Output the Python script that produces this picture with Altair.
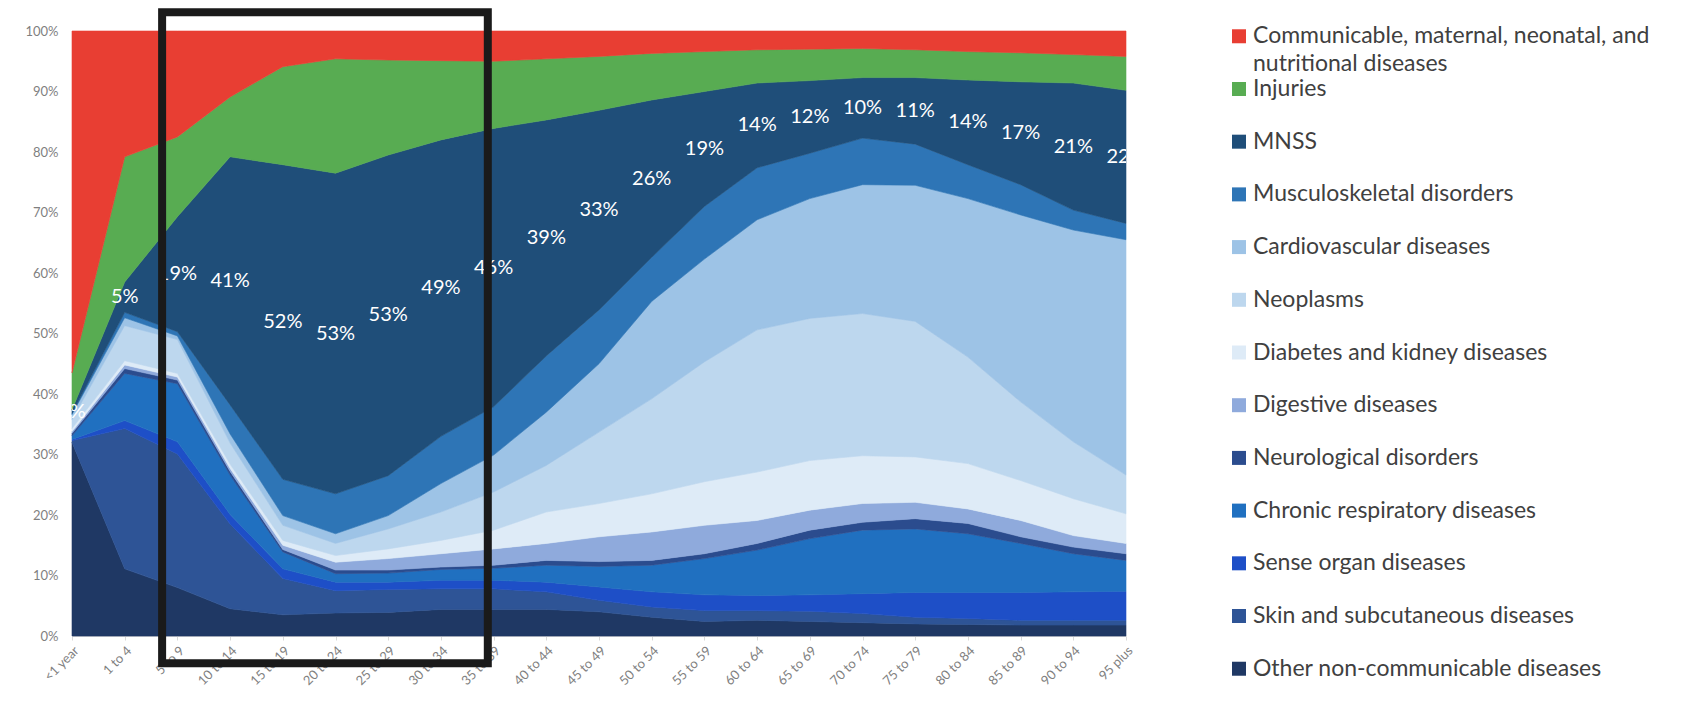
import json
import altair as alt
import pandas as pd

AGES = ["<1 year", "1 to 4", "5 to 9", "10 to 14", "15 to 19", "20 to 24", "25 to 29",
        "30 to 34", "35 to 39", "40 to 44", "45 to 49", "50 to 54", "55 to 59", "60 to 64",
        "65 to 69", "70 to 74", "75 to 79", "80 to 84", "85 to 89", "90 to 94", "95 plus"]

# legend order, top to bottom (= stack order, top to bottom)
CATEGORIES = [
    "Communicable, maternal, neonatal, and nutritional diseases",
    "Injuries",
    "MNSS",
    "Musculoskeletal disorders",
    "Cardiovascular diseases",
    "Neoplasms",
    "Diabetes and kidney diseases",
    "Digestive diseases",
    "Neurological disorders",
    "Chronic respiratory diseases",
    "Sense organ diseases",
    "Skin and subcutaneous diseases",
    "Other non-communicable diseases",
]
COLORS = ["#E83E33", "#58AC52", "#1F4E79", "#2E75B6", "#9DC3E6", "#BDD7EE", "#DEEBF7",
          "#8FAADC", "#2B4C8E", "#2070C0", "#1E4FC7", "#2E5496", "#1F3864"]

# percentage share per age group
COMMUNICABLE = [56.5, 20.8, 17.5, 10.9, 5.9, 4.6, 4.8, 4.9, 5.0, 4.6, 4.2, 3.7, 3.4, 3.1, 3.0, 2.9, 3.1, 3.4, 3.6, 3.9, 4.2]
INJURIES = [6.1, 20.7, 13.2, 9.9, 16.2, 18.9, 15.7, 13.1, 11.1, 10.1, 8.9, 7.7, 6.6, 5.5, 5.2, 4.8, 4.6, 4.7, 4.8, 4.7, 5.6]
MNSS = [0.6, 5.0, 19.0, 41.0, 52.0, 53.0, 53.0, 49.0, 46.0, 39.0, 33.0, 26.0, 19.0, 14.0, 12.0, 10.0, 11.0, 14.0, 17.0, 21.0, 22.0]
MUSCULOSKELETAL = [0.2, 0.9, 0.7, 4.8, 6.0, 6.6, 6.6, 7.8, 8.0, 9.3, 8.9, 7.3, 8.7, 8.6, 7.5, 7.7, 6.8, 5.6, 5.0, 3.3, 2.7]
CARDIOVASCULAR = [0.8, 1.3, 0.6, 1.5, 1.6, 1.6, 2.2, 4.7, 6.1, 8.8, 11.3, 16.1, 17.0, 18.2, 19.8, 21.3, 22.5, 26.2, 30.9, 35.0, 38.9]
NEOPLASMS = [1.5, 5.8, 5.6, 3.5, 2.5, 2.0, 3.3, 4.7, 6.3, 7.7, 11.8, 15.7, 19.8, 23.5, 23.5, 23.5, 22.4, 17.6, 13.0, 9.4, 6.4]
DIABETES = [0.5, 0.7, 0.6, 0.7, 0.8, 1.1, 1.6, 2.2, 3.1, 5.2, 5.5, 6.3, 7.2, 8.0, 8.2, 7.9, 7.5, 7.5, 6.6, 6.1, 4.9]
DIGESTIVE = [0.3, 0.6, 0.5, 0.5, 0.7, 1.3, 1.9, 2.2, 2.7, 2.8, 4.1, 4.7, 4.7, 3.8, 3.3, 3.1, 2.7, 2.4, 2.7, 1.9, 1.7]
NEUROLOGICAL = [0.4, 0.8, 0.6, 0.6, 0.4, 0.6, 0.5, 0.4, 0.5, 0.8, 0.8, 0.8, 0.8, 1.1, 1.4, 1.3, 1.7, 1.7, 1.1, 1.1, 1.1]
CHRONIC_RESP = [0.6, 7.8, 9.6, 6.5, 2.8, 1.4, 1.5, 1.8, 2.0, 2.8, 3.4, 4.4, 6.0, 7.5, 9.3, 10.5, 10.5, 9.7, 8.1, 6.3, 5.1]
SENSE_ORGAN = [0.2, 1.3, 2.0, 1.6, 1.6, 1.4, 1.2, 1.4, 1.4, 1.6, 2.2, 2.5, 2.6, 2.5, 2.7, 3.3, 4.1, 4.3, 4.6, 4.7, 4.8]
SKIN = [0.3, 23.2, 22.1, 14.0, 6.0, 3.7, 3.8, 3.4, 3.4, 2.9, 1.9, 1.7, 1.8, 1.6, 1.7, 1.5, 1.1, 1.0, 0.8, 0.8, 0.8]
OTHER_NCD = [32.0, 11.1, 8.0, 4.5, 3.5, 3.8, 3.9, 4.4, 4.4, 4.4, 4.0, 3.1, 2.4, 2.6, 2.4, 2.2, 2.0, 1.9, 1.8, 1.8, 1.8]

SERIES_LIST = [COMMUNICABLE, INJURIES, MNSS, MUSCULOSKELETAL, CARDIOVASCULAR, NEOPLASMS,
               DIABETES, DIGESTIVE, NEUROLOGICAL, CHRONIC_RESP, SENSE_ORGAN, SKIN, OTHER_NCD]
SERIES = dict(zip(CATEGORIES, SERIES_LIST))

# highlight box (in axis units: age index / percent)
BOX = {"x": 1.71, "x2": 7.89, "y": 103.1, "y2": -4.5}

LEGEND_FIRST_LINE = {CATEGORIES[0]: "Communicable, maternal, neonatal, and"}
LEGEND_SECOND_LINE = {CATEGORIES[0]: "nutritional diseases"}

# ---------- data tables ----------
stack_bottom_up = list(reversed(CATEGORIES))
rows = []
for k, cat in enumerate(stack_bottom_up):
    for i, v in enumerate(SERIES[cat]):
        rows.append({"idx": i, "age": AGES[i], "cat": cat, "order": k, "value": v})
df = pd.DataFrame(rows)

below_mnss = stack_bottom_up[:stack_bottom_up.index("MNSS")]
lab_rows = []
for i in range(len(AGES)):
    base = sum(SERIES[c][i] for c in below_mnss)
    lab_rows.append({"idx": i, "mid": base + MNSS[i] / 2, "text": f"{round(MNSS[i])}%"})
lab_df = pd.DataFrame(lab_rows)

box_df = pd.DataFrame([BOX])

color_scale = alt.Scale(domain=CATEGORIES, range=COLORS)

x_scale = alt.Scale(domain=[0, len(AGES) - 1], nice=False, zero=False)
x_axis = alt.Axis(values=list(range(len(AGES))),
                  labelExpr=f"{json.dumps(AGES)}[datum.value]",
                  labelAngle=-45, labelOverlap=False, labelFlush=False,
                  title=None, grid=False, tickSize=4, tickColor="#d9d9d9",
                  domainColor="#d9d9d9", labelColor="#7f7f7f", labelFontSize=13,
                  labelFont="Lato", labelPadding=4)
y_scale = alt.Scale(domain=[0, 100], nice=False)
y_axis = alt.Axis(values=list(range(0, 101, 10)), labelExpr="datum.value + '%'",
                  ticks=False, domain=False, grid=False, title=None, labelPadding=14,
                  minExtent=59, labelFlush=False, labelColor="#7f7f7f",
                  labelFontSize=13, labelFont="Lato")

areas = alt.Chart(df).mark_area(interpolate="linear", opacity=1, strokeWidth=0.6).encode(
    x=alt.X("idx:Q", scale=x_scale, axis=x_axis),
    y=alt.Y("value:Q", stack="zero", scale=y_scale, axis=y_axis),
    color=alt.Color("cat:N", scale=color_scale, legend=None),
    stroke=alt.Stroke("cat:N", scale=color_scale, legend=None),
    order=alt.Order("order:Q", sort="ascending"),
)

labels = alt.Chart(lab_df).mark_text(color="white", fontSize=20, font="Lato", clip=True).encode(
    x=alt.X("idx:Q", scale=x_scale, axis=x_axis),
    y=alt.Y("mid:Q", scale=y_scale, axis=y_axis),
    text="text:N",
)

box = alt.Chart(box_df).mark_rect(filled=False, stroke="#1a1a1a", strokeWidth=8,
                                  strokeJoin="miter", clip=False).encode(
    x=alt.X("x:Q", scale=x_scale, axis=x_axis),
    x2="x2:Q",
    y=alt.Y("y:Q", scale=y_scale, axis=y_axis),
    y2="y2:Q",
)

main = alt.layer(areas, labels, box).properties(width=1054, height=605)

# ---------- legend ----------
leg_df = pd.DataFrame({
    "cat": CATEGORIES,
    "pos": list(range(len(CATEGORIES))),
    "line1": [LEGEND_FIRST_LINE.get(c, c) for c in CATEGORIES],
    "line2": [LEGEND_SECOND_LINE.get(c, "") for c in CATEGORIES],
})
leg_y = alt.Y("pos:Q", scale=alt.Scale(domain=[-0.1, len(CATEGORIES) - 0.9], reverse=True,
                                       nice=False, zero=False), axis=None)
leg_sq = alt.Chart(leg_df).mark_square(size=196, opacity=1).encode(
    x=alt.value(7), y=leg_y,
    color=alt.Color("cat:N", scale=color_scale, legend=None),
)
leg_t1 = alt.Chart(leg_df).mark_text(align="left", baseline="middle", fontSize=23,
                                     font="Lato", color="#404040").encode(
    x=alt.value(21), y=leg_y, text="line1:N")
leg_t2 = alt.Chart(leg_df).transform_filter("datum.line2 != ''").mark_text(
    align="left", baseline="middle", fontSize=23, font="Lato", color="#404040", dy=28).encode(
    x=alt.value(21), y=leg_y, text="line2:N")
legend = alt.layer(leg_sq, leg_t1, leg_t2).properties(width=440, height=643)

chart = alt.hconcat(main, legend, spacing=96).properties(
    padding={"left": 5, "top": 0, "right": 5, "bottom": 5}
).configure(font="Lato").configure_view(stroke=None)

chart.save("out.html", embed_options={"renderer": "svg", "actions": False})
